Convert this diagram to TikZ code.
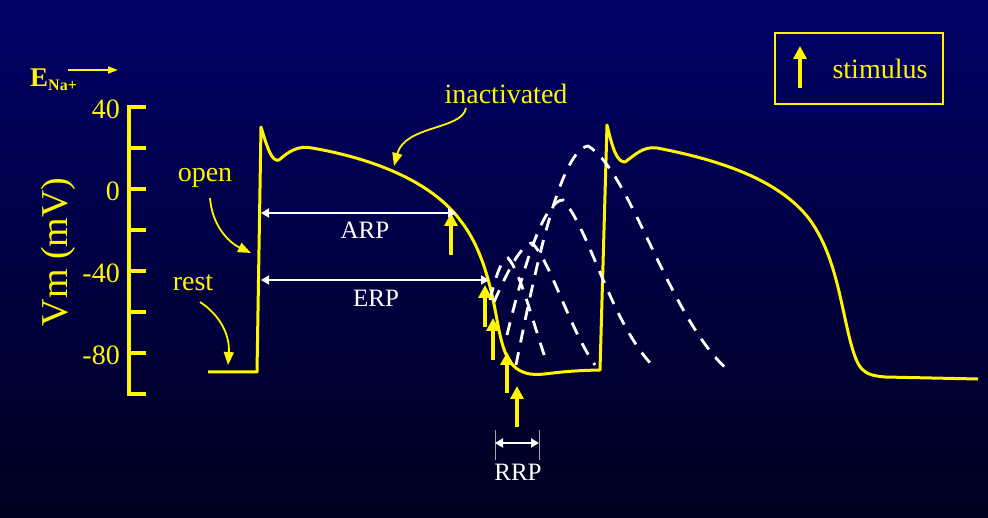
\documentclass[tikz,border=0pt]{standalone}
\usepackage{fontspec}
\setmainfont{Liberation Serif}
\usetikzlibrary{arrows.meta}
\definecolor{ylw}{RGB}{255,245,0}
\definecolor{bgtop}{RGB}{0,0,102}
\definecolor{bgbot}{RGB}{0,0,32}
\tikzset{
 ap/.style={ylw,line width=3pt,line join=round},
 dsh/.style={white,line width=2.8pt,dash pattern=on 13pt off 10pt},
 stim/.style={ylw,line width=3.5pt,-{Triangle[length=13pt,width=13pt]}},
 per/.style={white,line width=2.2pt,{Triangle[length=8pt,width=9pt]}-{Triangle[length=8pt,width=9pt]}},
 lbl/.style={ylw,font=\fontsize{28}{28}\selectfont,inner sep=0},
 wlbl/.style={white,font=\fontsize{25}{25}\selectfont,inner sep=0},
 cur/.style={ylw,line width=1.8pt,-{Triangle[length=13pt,width=10pt]}},
}
\begin{document}
\begin{tikzpicture}[x=1pt,y=-1pt]
\shade[top color=bgtop,bottom color=bgbot] (0,0) rectangle (988,518);
\useasboundingbox (0,0) rectangle (988,518);
% axis
\draw[ylw,line width=4pt] (146,107) -- (129,107) -- (129,394) -- (146,394);
\foreach \y in {148,189,230,271,312,353} \draw[ylw,line width=4pt] (129,\y) -- (146,\y);
\node[lbl,anchor=east] (t40) at (120,109) {40};
\node[lbl,anchor=east] (t0) at (120,191) {0};
\node[lbl,anchor=east] (tm40) at (120,273) {-40};
\node[lbl,anchor=east] (tm80) at (120,355) {-80};
\node[lbl,rotate=90,font=\fontsize{38}{38}\selectfont] (vm) at (58,252) {Vm (mV)};
\node[lbl,anchor=west,font=\fontsize{27}{27}\selectfont\bfseries] (ena) at (30,80) {E\textsubscript{\fontsize{16}{16}\selectfont Na+}};
\coordinate (ea) at (68,70); \coordinate (eb) at (118,70);
\draw[ylw,line width=1.8pt,-{Triangle[length=10pt,width=7pt]}] (ea) -- (eb);
% main AP
\draw[ap] (208,372) -- (257,372) -- (261,127) .. controls (268,150) and (272,162) .. (279,160)
 .. controls (288,152) and (298,145) .. (312,148)
 .. controls (370,158) and (430,180) .. (460,220)
 .. controls (480,245) and (490,280) .. (497,320)
 .. controls (503,352) and (508,370) .. (530,374)
 .. controls (545,376) and (550,371) .. (600,370)
 -- (607,125) .. controls (613,150) and (617,162) .. (625,162)
 .. controls (635,155) and (643,146) .. (657,148)
 .. controls (720,160) and (780,180) .. (810,220)
 .. controls (835,255) and (840,300) .. (850,340)
 .. controls (858,370) and (862,375) .. (885,377) -- (978,379);
% dashed
\draw[dsh] (490,300) .. controls (496,275) and (502,258) .. (508,258) .. controls (520,270) and (535,330) .. (547,363);
\draw[dsh] (494,302) .. controls (506,275) and (520,245) .. (532,243) .. controls (550,260) and (570,330) .. (595,365);
\draw[dsh] (507,335) .. controls (525,260) and (545,200) .. (563,200) .. controls (590,230) and (610,320) .. (652,365);
\draw[dsh] (516,365) .. controls (535,270) and (560,150) .. (588,146) .. controls (630,170) and (670,320) .. (728,370);
% stimuli
\foreach \n/\x/\a/\b in {s1/451/255/213,s2/485/327/285,s3/493/360/318,s4/507/393/352,s5/517/427/386}{
 \coordinate (\n a) at (\x,\a); \coordinate (\n b) at (\x,\b);
 \draw[stim] (\n a) -- (\n b);}
% periods
\coordinate (arpL) at (261,213); \coordinate (arpR) at (456,213);
\draw[per] (arpL) -- (arpR);
\node[wlbl] (arp) at (365,230) {ARP};
\coordinate (erpL) at (261,280); \coordinate (erpR) at (489,280);
\draw[per] (erpL) -- (erpR);
\node[wlbl] (erp) at (376,298) {ERP};
\draw[gray!70,line width=1pt] (495,430) -- (495,460) (539,430) -- (539,460);
\coordinate (rrpL) at (495,443); \coordinate (rrpR) at (539,443);
\draw[per] (rrpL) -- (rrpR);
\node[wlbl] (rrp) at (518,472) {RRP};
% labels with curved arrows
\node[lbl] (open) at (205,178) {open};
\coordinate (opent) at (251,253);
\draw[cur] (210,198) .. controls (212,225) and (228,242) .. (opent);
\node[lbl] (rest) at (193,283) {rest};
\coordinate (restt) at (228,365);
\draw[cur] (200,302) .. controls (220,315) and (230,335) .. (restt);
\node[lbl] (inact) at (506,94) {inactivated};
\coordinate (inactt) at (394,166);
\draw[cur] (466,108) .. controls (462,130) and (405,125) .. (inactt);
% legend
\draw[ylw,line width=1.8pt] (775,33) rectangle (943,104);
\coordinate (la) at (800,88); \coordinate (lb) at (800,46);
\draw[stim] (la) -- (lb);
\node[lbl] (stimtxt) at (880,69) {stimulus};
\end{tikzpicture}
\end{document}
